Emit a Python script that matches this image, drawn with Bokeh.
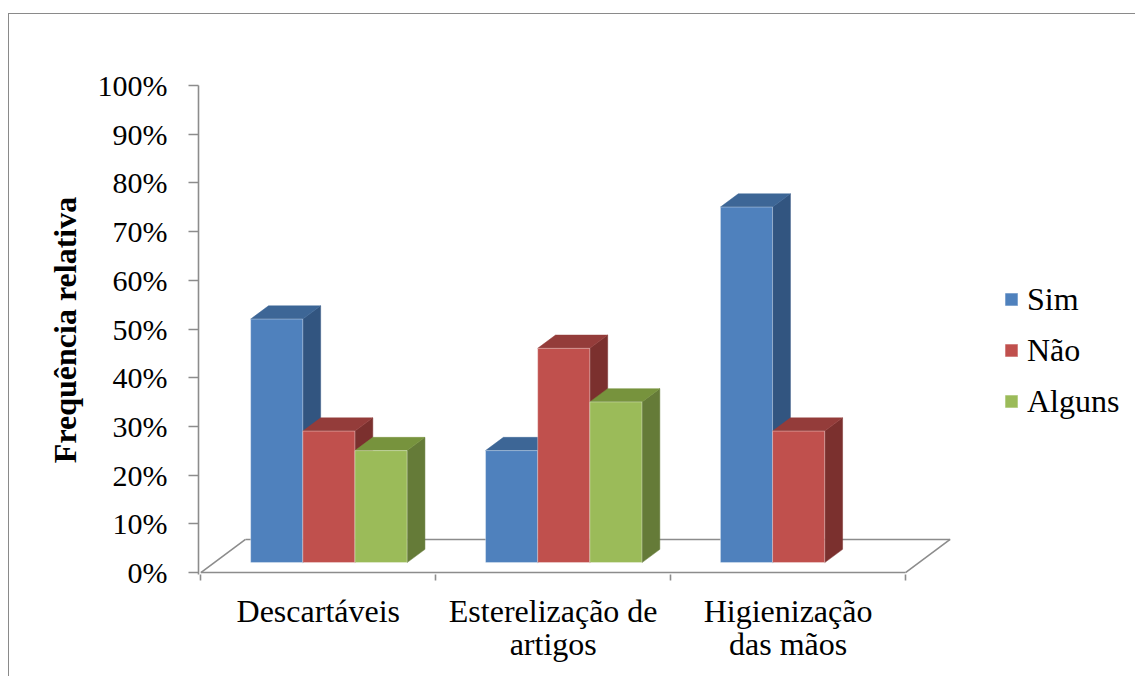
from bokeh.plotting import figure
from bokeh.models import FixedTicker, PrintfTickFormatter, Legend, LegendItem, Range1d
from bokeh.embed import file_html
from bokeh.resources import INLINE

# ---- data ----
categories = ["Descartáveis", "Esterelização de\nartigos", "Higienização\ndas mãos"]
series_names = ["Sim", "Não", "Alguns"]
sim = [50, 23, 73]
nao = [27, 44, 27]
alguns = [23, 33, 0]
y_ticks = [0, 10, 20, 30, 40, 50, 60, 70, 80, 90, 100]
y_title = "Frequência relativa"

series_values = [sim, nao, alguns]

# ---- style ----
front_colors = ["#4F81BD", "#C0504D", "#9BBB59"]
top_colors = ["#3D6696", "#943C3A", "#77933D"]
side_colors = ["#325580", "#7B302E", "#657B38"]
FONT = "Liberation Serif"
GRAY = "#8c8c8c"

# 3D projection constants (data units)
DX = 0.19   # floor depth in x units
DY = 6.8    # floor depth in % units
F0, F1 = 0.3, 0.7
BAR_W = 0.222
GROUP_SHIFT = -0.012

p = figure(
    frame_width=754, frame_height=489,
    x_range=Range1d(-0.01, 3.2), y_range=Range1d(-0.4, 100),
    min_border_left=189, min_border_top=71, min_border_bottom=102, min_border_right=183,
    output_backend="svg", toolbar_location=None, tools="",
)
p.styles = {"margin-left": "8px", "margin-top": "13px",
            "border-left": "1px solid #8a8a8a", "border-top": "1px solid #8a8a8a"}
p.outline_line_color = None
p.xgrid.grid_line_color = None
p.ygrid.grid_line_color = None
p.background_fill_color = "white"
p.border_fill_color = "white"

# floor
n = len(categories)
p.line([0, n], [0, 0], line_color=GRAY, line_width=1.6)
p.line([DX, n + DX], [DY, DY], line_color=GRAY, line_width=1.6)
p.line([0, DX], [0, DY], line_color=GRAY, line_width=1.6)
p.line([n, n + DX], [0, DY], line_color=GRAY, line_width=1.6)

# bars
d_x = (F1 - F0) * DX
d_y = (F1 - F0) * DY
legend_items = []
for j, vals in enumerate(series_values):
    L, R, B, T = [], [], [], []
    side_xs, side_ys, top_xs, top_ys = [], [], [], []
    for i, v in enumerate(vals):
        if v <= 0:
            continue
        xl = i + 0.5 - 1.5 * BAR_W + j * BAR_W + F0 * DX + GROUP_SHIFT
        xr = xl + BAR_W
        yb = F0 * DY
        yt = v + F0 * DY
        L.append(xl); R.append(xr); B.append(yb); T.append(yt)
        side_xs.append([xr, xr + d_x, xr + d_x, xr])
        side_ys.append([yb, yb + d_y, yt + d_y, yt])
        top_xs.append([xl, xr, xr + d_x, xl + d_x])
        top_ys.append([yt, yt, yt + d_y, yt + d_y])
    p.patches(side_xs, side_ys, fill_color=side_colors[j], line_color=side_colors[j], line_width=0.5)
    p.patches(top_xs, top_ys, fill_color=top_colors[j], line_color=top_colors[j], line_width=0.5)
    r = p.quad(left=L, right=R, bottom=B, top=T, fill_color=front_colors[j],
               line_color="white", line_alpha=0.35, line_width=1)
    legend_items.append(LegendItem(label=series_names[j], renderers=[r]))

# y axis
ya = p.yaxis[0]
ya.ticker = FixedTicker(ticks=y_ticks)
ya.formatter = PrintfTickFormatter(format="%d%%")
ya.major_tick_out = 10
ya.major_tick_in = 0
ya.minor_tick_line_color = None
ya.axis_line_color = GRAY
ya.axis_line_width = 1.6
ya.major_tick_line_color = GRAY
ya.major_tick_line_width = 1.6
ya.major_label_standoff = 21
ya.major_label_text_font = FONT
ya.major_label_text_font_size = "30px"
ya.major_label_text_color = "black"
ya.axis_label = y_title
ya.axis_label_text_font = FONT
ya.axis_label_text_font_size = "32px"
ya.axis_label_text_font_style = "bold"
ya.axis_label_text_color = "black"
ya.axis_label_standoff = 12

# x axis
xa = p.xaxis[0]
centers = [i + 0.5 for i in range(n)]
xa.ticker = FixedTicker(ticks=centers, minor_ticks=list(range(n + 1)))
xa.major_label_overrides = {c: lab for c, lab in zip(centers, categories)}
xa.axis_line_color = None
xa.major_tick_line_color = None
xa.major_tick_out = 6
xa.major_tick_in = 0
xa.minor_tick_line_color = GRAY
xa.minor_tick_line_width = 1.6
xa.minor_tick_out = 6
xa.minor_tick_in = 0
xa.major_label_standoff = 12
xa.major_label_text_font = FONT
xa.major_label_text_font_size = "32px"
xa.major_label_text_line_height = 0.94
xa.major_label_text_color = "black"
xa.major_label_text_align = "center"

legend = Legend(items=legend_items, location=(51, 154),
                glyph_width=16, glyph_height=16, label_height=38, spacing=13,
                label_standoff=8, padding=0, margin=0,
                border_line_color=None, background_fill_alpha=0,
                label_text_font=FONT, label_text_font_size="32px", label_text_color="black")
p.add_layout(legend, "right")

open("out.html", "w").write(file_html(p, INLINE))
